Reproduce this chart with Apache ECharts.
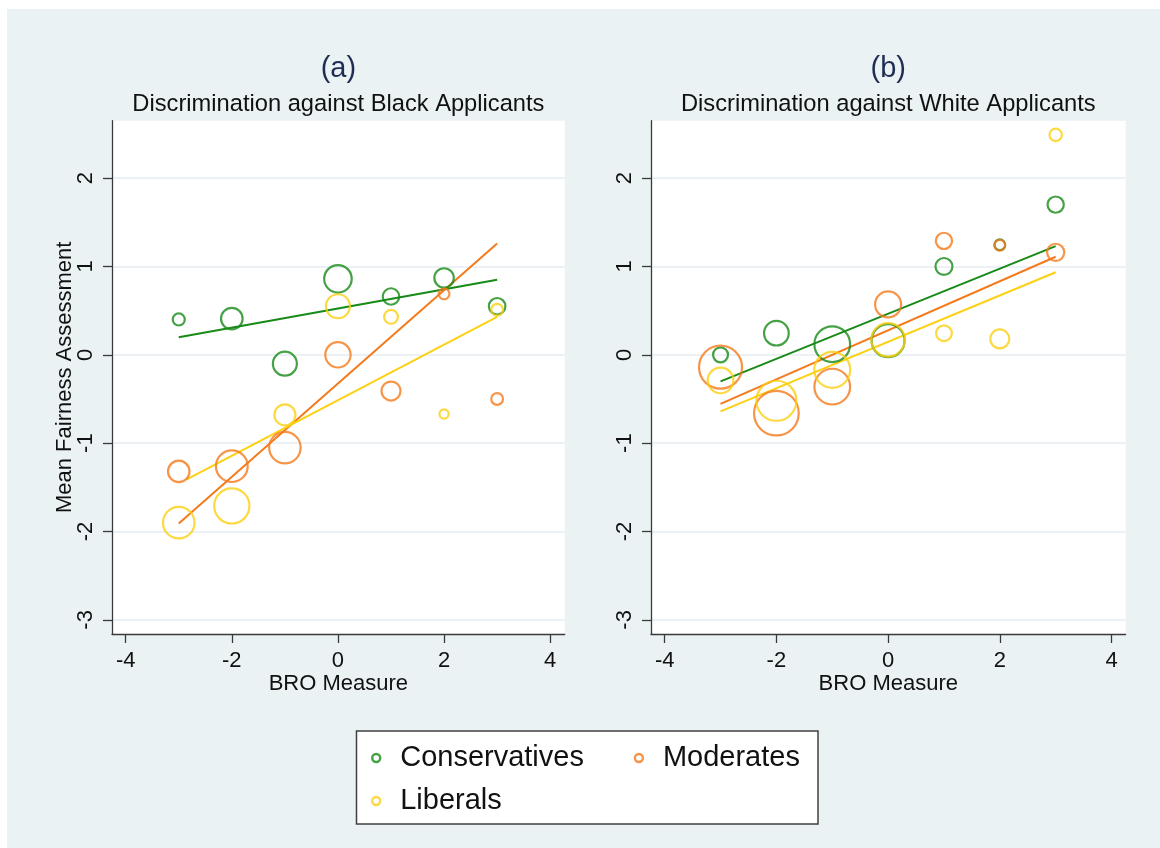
<!DOCTYPE html>
<html>
<head>
<meta charset="utf-8">
<script src="https://cdn.jsdelivr.net/npm/echarts@6/dist/echarts.min.js"></script>
<style>
html,body{margin:0;padding:0;background:#fff;}
#chart{width:1160px;height:848px;}
</style>
</head>
<body>
<div id="chart"></div>
<script>
// ---- data ----
const bro = [-3, -2, -1, 0, 1, 2, 3];
const xTicks = [-4, -2, 0, 2, 4];
const yTicks = [-3, -2, -1, 0, 1, 2];
const groups = ['Conservatives', 'Moderates', 'Liberals'];

// Panel (a): Discrimination against Black Applicants
const aConsMean = [0.40, 0.41, -0.10, 0.86, 0.66, 0.87, 0.55];
const aConsN    = [22, 62, 75, 97, 38, 51, 38];
const aModMean  = [-1.32, -1.26, -1.05, 0.00, -0.41, 0.69, -0.50];
const aModN     = [61, 126, 125, 83, 49, 18, 21];
const aLibMean  = [-1.90, -1.71, -0.68, 0.55, 0.43, -0.67, 0.51];
const aLibN     = [125, 154, 59, 75, 28, 14, 21];
const aConsFit  = [[-3, 0.20], [3, 0.85]];
const aModFit   = [[-3, -1.91], [3, 1.26]];
const aLibFit   = [[-2.85, -1.41], [3, 0.43]];

// Panel (b): Discrimination against White Applicants
const bConsMean = [0.00, 0.245, 0.12, 0.16, 1.00, 1.245, 1.70];
const bConsN    = [32, 79, 158, 136, 40, 18, 37];
const bModMean  = [-0.14, -0.66, -0.36, 0.57, 1.29, 1.24, 1.16];
const bModN     = [225, 242, 158, 87, 37, 18, 41];
const bLibMean  = [-0.29, -0.52, -0.17, 0.17, 0.245, 0.18, 2.49];
const bLibN     = [85, 196, 160, 140, 35, 49, 23];
const bConsFit  = [[-3, -0.30], [3, 1.23]];
const bModFit   = [[-3, -0.555], [3, 1.11]];
const bLibFit   = [[-3, -0.64], [3, 0.935]];

// ---- styling ----
const COLORS = {Conservatives: '#178a17', Moderates: '#f47a1c', Liberals: '#fdd012'};
const FONT = '"Liberation Sans", Arial, sans-serif';
const AXIS_COLOR = '#3a3a3a';
const TEXT_COLOR = '#111';

function pts(means, ns) { return bro.map((x, i) => [x, means[i], ns[i]]); }

function scatter(name, data, idx) {
  return {
    name: name, type: 'scatter', xAxisIndex: idx, yAxisIndex: idx,
    data: data,
    symbol: 'circle',
    symbolSize: v => 3 * Math.sqrt(v[2]) - 2,
    itemStyle: {color: 'rgba(255,255,255,0)', borderColor: COLORS[name], borderWidth: 2.2},
    emphasis: {disabled: true}, silent: true, z: 3
  };
}
function fit(name, data, idx) {
  return {
    name: name + ' fit ' + idx, type: 'line', xAxisIndex: idx, yAxisIndex: idx,
    data: data, showSymbol: false, symbol: 'none',
    lineStyle: {color: COLORS[name], width: 2}, itemStyle: {color: COLORS[name]},
    emphasis: {disabled: true}, silent: true, z: 2
  };
}

function xAxis(idx, min, max) {
  return {
    type: 'value', gridIndex: idx, min: min, max: max,
    name: 'BRO Measure', nameLocation: 'middle', nameGap: 39, nameMoveOverlap: false,
    nameTextStyle: {fontFamily: FONT, fontSize: 22, color: TEXT_COLOR},
    axisLine: {show: true, onZero: false, lineStyle: {color: AXIS_COLOR, width: 1.3}},
    axisTick: {show: true, length: 9, customValues: xTicks, lineStyle: {color: AXIS_COLOR, width: 1.3}},
    axisLabel: {customValues: xTicks, margin: 16, fontFamily: FONT, fontSize: 22, color: TEXT_COLOR},
    splitLine: {show: false}
  };
}
function yAxis(idx, withName) {
  const o = {
    type: 'value', gridIndex: idx, min: -3.16, max: 2.65,
    axisLine: {show: true, onZero: false, lineStyle: {color: AXIS_COLOR, width: 1.3}},
    axisTick: {show: true, length: 9, customValues: yTicks, lineStyle: {color: AXIS_COLOR, width: 1.3}},
    axisLabel: {customValues: yTicks, rotate: 90, margin: 15, fontFamily: FONT, fontSize: 22, color: TEXT_COLOR},
    splitLine: {show: true, lineStyle: {color: '#e5edf0', width: 1.5}}
  };
  if (withName) {
    o.name = 'Mean Fairness Assessment';
    o.nameLocation = 'middle';
    o.nameGap = 36.5;
    o.nameMoveOverlap = false;
    o.nameTextStyle = {fontFamily: FONT, fontSize: 22, color: TEXT_COLOR};
  }
  return o;
}

const legendText = {fontFamily: FONT, fontSize: 29, color: TEXT_COLOR, lineHeight: 30, padding: [0, 0, 0, 15]};

const chart = echarts.init(document.getElementById('chart'), null, {renderer: 'canvas'});
const option = {
  backgroundColor: '#eaf2f3',
  animation: false,
  textStyle: {fontFamily: FONT},
  grid: [
    {left: 112, top: 120.7, width: 452.7, height: 513.3, show: true, backgroundColor: '#ffffff', borderWidth: 0, containLabel: false},
    {left: 651, top: 120.7, width: 474.6, height: 513.3, show: true, backgroundColor: '#ffffff', borderWidth: 0, containLabel: false}
  ],
  xAxis: [xAxis(0, -4.258, 4.273), xAxis(1, -4.245, 4.252)],
  yAxis: [yAxis(0, true), yAxis(1, false)],
  legend: [
    {
      orient: 'vertical', left: 371, top: 743, padding: 0, itemWidth: 8, itemHeight: 8, itemGap: 13,
      selectedMode: false, textStyle: legendText,
      data: [
        {name: 'Conservatives', icon: 'circle', itemStyle: {color: '#fff', borderColor: COLORS.Conservatives, borderWidth: 2.4}},
        {name: 'Liberals', icon: 'circle', itemStyle: {color: '#fff', borderColor: COLORS.Liberals, borderWidth: 2.4}}
      ]
    },
    {
      orient: 'vertical', left: 633.7, top: 743, padding: 0, itemWidth: 8, itemHeight: 8, itemGap: 13,
      selectedMode: false, textStyle: legendText,
      data: [
        {name: 'Moderates', icon: 'circle', itemStyle: {color: '#fff', borderColor: COLORS.Moderates, borderWidth: 2.4}}
      ]
    }
  ],
  graphic: [
    {type: 'rect', silent: true, z: 0, shape: {x: 0, y: 0, width: 1160, height: 9}, style: {fill: '#ffffff'}},
    {type: 'rect', silent: true, z: 0, shape: {x: 0, y: 0, width: 7, height: 848}, style: {fill: '#ffffff'}},
    {type: 'rect', silent: true, z: 0, shape: {x: 356.5, y: 731, width: 461.5, height: 93}, style: {fill: '#ffffff', stroke: '#404040', lineWidth: 1.5}},
    {type: 'text', silent: true, x: 338.4, y: 69, style: {text: '(a)', fontFamily: FONT, fontSize: 29, fill: '#1f2d55', textAlign: 'center', textVerticalAlign: 'middle'}},
    {type: 'text', silent: true, x: 338.4, y: 104.5, style: {text: 'Discrimination against Black Applicants', fontFamily: FONT, fontSize: 23.7, fill: TEXT_COLOR, textAlign: 'center', textVerticalAlign: 'middle'}},
    {type: 'text', silent: true, x: 888.3, y: 69, style: {text: '(b)', fontFamily: FONT, fontSize: 29, fill: '#1f2d55', textAlign: 'center', textVerticalAlign: 'middle'}},
    {type: 'text', silent: true, x: 888.3, y: 104.5, style: {text: 'Discrimination against White Applicants', fontFamily: FONT, fontSize: 23.7, fill: TEXT_COLOR, textAlign: 'center', textVerticalAlign: 'middle'}}
  ],
  series: [
    scatter('Conservatives', pts(aConsMean, aConsN), 0),
    scatter('Moderates', pts(aModMean, aModN), 0),
    scatter('Liberals', pts(aLibMean, aLibN), 0),
    fit('Conservatives', aConsFit, 0),
    fit('Moderates', aModFit, 0),
    fit('Liberals', aLibFit, 0),
    scatter('Conservatives', pts(bConsMean, bConsN), 1),
    scatter('Moderates', pts(bModMean, bModN), 1),
    scatter('Liberals', pts(bLibMean, bLibN), 1),
    fit('Conservatives', bConsFit, 1),
    fit('Moderates', bModFit, 1),
    fit('Liberals', bLibFit, 1)
  ]
};
chart.setOption(option);
</script>
</body>
</html>
